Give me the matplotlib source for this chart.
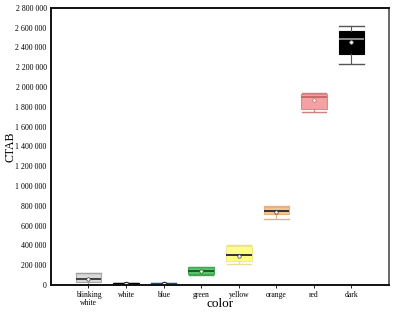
import matplotlib
matplotlib.use("Agg")
import matplotlib.pyplot as plt
from matplotlib.ticker import FuncFormatter

# values (CTAB per colour class)
colors = ["blinking\nwhite", "white", "blue", "green", "yellow", "orange", "red", "dark"]
whislo = [0, -15000, -15000, 100000, 210000, 670000, 1746000, 2234000]
q1 = [27000, -15000, -15000, 111000, 246000, 718000, 1779000, 2332000]
med = [61000, 0, 0, 145000, 303000, 748000, 1895000, 2487000]
q3 = [118000, 17000, 17000, 179000, 394000, 788000, 1927000, 2567000]
whishi = [125000, 17000, 17000, 185000, 400000, 795000, 1944000, 2615000]
mean = [58000, 5000, 5000, 140000, 295000, 740000, 1867000, 2453000]

face = ["#d9d9d9", "#ffffff", "#1f4e79", "#5cc46a", "#ffff8a", "#f6c490", "#f2a2a2", "#000000"]
edge = ["#a8a8a8", "#000000", "#1f4e79", "#43a552", "#f0e890", "#eab07a", "#d98a8a", "#000000"]
medc = ["#404040", "#000000", "#1f4e79", "#1a5a2a", "#333333", "#333333", "#c86a6a", "#8a8a8a"]
whisc = ["#a0a0a0", "#000000", "#1f4e79", "#43a552", "#e8e090", "#e6b080", "#d08080", "#555555"]

plt.rcParams["font.family"] = ["Liberation Serif", "DejaVu Serif"]

fig = plt.figure(figsize=(3.97, 3.15), dpi=100)
ax = fig.add_axes([0.128, 0.095, 0.852, 0.88])

for i in range(len(colors)):
    st = [dict(whislo=whislo[i], q1=q1[i], med=med[i], q3=q3[i],
               whishi=whishi[i], mean=mean[i], fliers=[])]
    big = i in (1, 2)
    ax.bxp(st, positions=[i + 1], widths=0.68, capwidths=0.65,
           showmeans=True, patch_artist=True,
           boxprops=dict(facecolor=face[i], edgecolor=edge[i], linewidth=0.8),
           medianprops=dict(color=medc[i], linewidth=1.4),
           whiskerprops=dict(color=whisc[i], linewidth=0.8),
           capprops=dict(color=whisc[i], linewidth=1.0),
           meanprops=dict(marker="o", markerfacecolor="white",
                          markeredgecolor="#222222" if big else medc[i],
                          markersize=4.5 if big else 2.5,
                          markeredgewidth=0.8 if big else 0.5))

ax.set_xlim(0, 9)
ax.set_ylim(0, 2800000)
ax.set_xticks(range(1, len(colors) + 1))
ax.set_xticklabels(colors, fontsize=5.5, linespacing=1.0)
ax.set_yticks(range(0, 2800001, 200000))
ax.yaxis.set_major_formatter(FuncFormatter(lambda v, p: f"{int(v):,}".replace(",", " ")))
ax.tick_params(axis="y", labelsize=5.7, length=0, pad=3)
ax.tick_params(axis="x", length=2, width=0.6, pad=2)

ax.set_ylabel("CTAB", fontsize=8.5, labelpad=-1)
ax.set_xlabel("color", fontsize=9.5)
ax.xaxis.set_label_coords(0.5, -0.045)

for side in ("left", "bottom", "top"):
    ax.spines[side].set_color("#111111")
    ax.spines[side].set_linewidth(1.4)
ax.spines["right"].set_color("#666666")
ax.spines["right"].set_linewidth(1.4)

fig.savefig("out.png", dpi=100)
